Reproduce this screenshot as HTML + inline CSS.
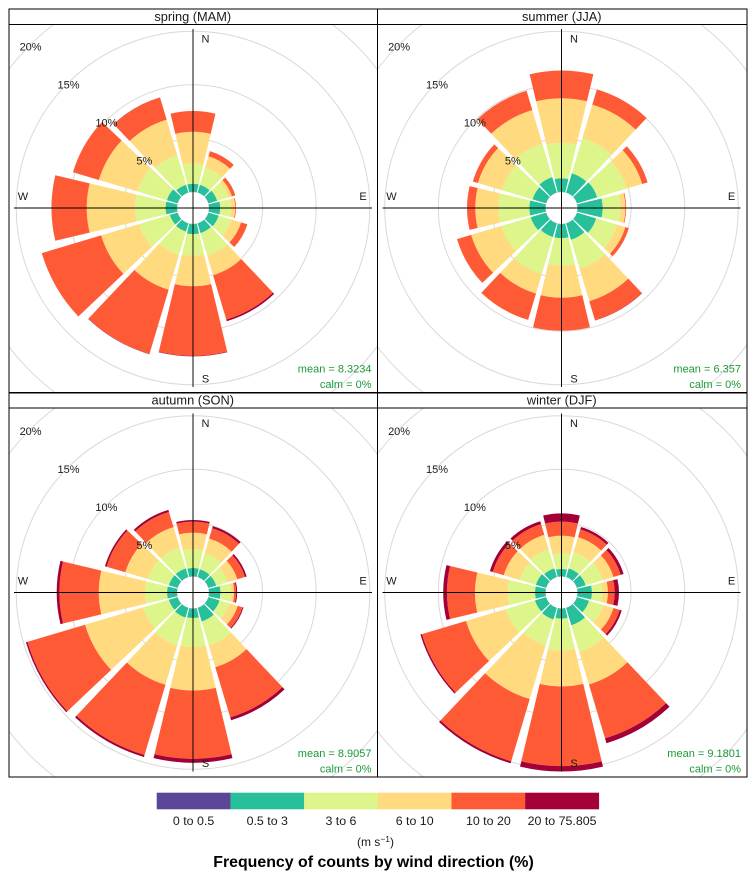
<!DOCTYPE html>
<html lang="en">
<head>
<meta charset="utf-8">
<title>Wind rose by season</title>
<style>
  html, body { margin: 0; padding: 0; background: #fff; }
  body { width: 755px; height: 878px; overflow: hidden; }
  svg { display: block; font-family: "Liberation Sans", Arial, sans-serif; filter: blur(0.3px); }
  text { fill: #1a1a1a; }
</style>
</head>
<body>
<svg id="chart" width="755" height="878" viewBox="0 0 755 878" xmlns="http://www.w3.org/2000/svg">
  <g id="panels"></g>
  <g id="legend"></g>
  <text x="375.5" y="846" font-size="12" text-anchor="middle">(m s<tspan dy="-4" font-size="8.5">−1</tspan><tspan dy="4">)</tspan></text>
  <text x="373.5" y="867" font-size="15.9" font-weight="bold" text-anchor="middle" style="fill:#000">Frequency of counts by wind direction (%)</text>
</svg>
<script>
// Categories
const directions = [0, 30, 60, 90, 120, 150, 180, 210, 240, 270, 300, 330];
const speedBands = ["0 to 0.5", "0.5 to 3", "3 to 6", "6 to 10", "10 to 20", "20 to 75.805"];
const bandColours = ["#5B4698", "#27C09B", "#DDF58B", "#FFDA7E", "#FF5A36", "#A30038"];
const gridTicks = [5, 10, 15, 20];
const compassLabels = ["N", "E", "S", "W"];

// Frequency (%) of counts by direction, one array per speed band, per season
const spring0 = [.02,.02,.02,.02,.02,.02,.02,.02,.02,.02,.02,.02];
const spring1 = [.75,.75,.84,1.03,.99,.93,.93,.79,.75,1.05,1.03,.75];
const spring2 = [1.91,1.65,1.07,1.03,1.25,2.20,2.01,2.29,2.99,2.84,2.89,2.89];
const spring3 = [2.94,1.13,.36,.37,.93,1.90,2.85,3.36,3.69,4.51,3.73,3.45];
const spring4 = [1.93,.49,.34,.07,.61,4.32,6.48,6.25,5.78,3.29,2.52,2.15];
const spring5 = [0,0,0,0,0,.16,.05,.03,0,0,0,.02];

const summer0 = [.02,.02,.02,.02,.02,.02,.02,.02,.02,.02,.02,.02];
const summer1 = [1.26,1.87,1.96,2.33,1.87,1.59,1.31,1.31,1.49,1.49,1.31,1.49];
const summer2 = [3.31,3.41,2.89,1.65,2.05,2.80,2.58,3.64,2.85,2.89,2.99,3.27];
const summer3 = [4.15,3.27,1.49,.47,.79,3.17,2.96,1.87,2.94,2.15,2.33,3.27];
const summer4 = [2.59,1.49,.53,.07,.33,1.85,3.08,2.56,1.38,.77,.49,1.87];
const summer5 = [0,0,0,0,0,.03,0,0,0,0,0,0];

const autumn0 = [.02,.02,.02,.02,.02,.02,.02,.02,.02,.02,.02,.02];
const autumn1 = [.77,.75,.75,1.05,1.07,1.31,.87,.93,.84,.91,.84,.84];
const autumn2 = [1.77,1.59,1.12,1.00,.98,2.33,2.71,2.71,2.52,2.05,2.05,2.05];
const autumn3 = [1.53,1.40,.93,.28,.79,2.12,4.05,3.83,5.64,4.32,2.19,1.96];
const autumn4 = [1.03,1.00,.75,.19,.47,4.88,6.37,6.84,5.61,3.67,1.82,1.49];
const autumn5 = [.15,.21,.16,.09,.09,.28,.37,.19,.14,.25,.16,.19];

const winter0 = [.02,.02,.02,.02,.02,.02,.02,.02,.02,.02,.02,.02];
const winter1 = [.68,.84,.84,1.33,1.17,1.68,.93,1.12,1.07,.96,.98,.84];
const winter2 = [1.46,1.59,1.68,.97,1.39,2.57,2.96,2.52,2.85,2.56,1.59,1.87];
const winter3 = [1.65,1.45,1.03,.52,.99,3.20,3.36,5.22,3.87,3.04,1.54,1.40];
const winter4 = [1.31,.75,.70,.63,.61,5.24,7.43,6.06,4.29,2.61,1.07,1.03];
const winter5 = [.77,.23,.28,.40,.19,.47,.50,.19,.14,.35,.28,.28];

const seasonTitles = ["spring (MAM)", "summer (JJA)", "autumn (SON)", "winter (DJF)"];
const seasonMeans = ["mean = 8.3234", "mean = 6.357", "mean = 8.9057", "mean = 9.1801"];
const seasonCalm = ["calm = 0%", "calm = 0%", "calm = 0%", "calm = 0%"];
const seasonBands = [
  [spring0, spring1, spring2, spring3, spring4, spring5],
  [summer0, summer1, summer2, summer3, summer4, summer5],
  [autumn0, autumn1, autumn2, autumn3, autumn4, autumn5],
  [winter0, winter1, winter2, winter3, winter4, winter5]
];

// Layout and axis functions
const NS = "http://www.w3.org/2000/svg";
const HOLE_RADIUS = 16;
const PX_PER_PERCENT = 10.72;
const WEDGE_HALF_ANGLE = 13.4;
const AXIS_HALF_LENGTH = 179;
const colEdges = [9, 377.5, 747];
const rowTops = [9, 393];
const stripBottoms = [24.5, 408];
const rowBottoms = [392.5, 777];
const centreX = [193, 561.5];
const centreY = [208, 592.5];

function radiusScale(percent) {
  return HOLE_RADIUS + percent * PX_PER_PERCENT;
}
function polar(cx, cy, r, deg) {
  const a = deg * Math.PI / 180;
  return [cx + r * Math.sin(a), cy - r * Math.cos(a)];
}
function wedgePath(cx, cy, r0, r1, dir) {
  const a = dir - WEDGE_HALF_ANGLE;
  const b = dir + WEDGE_HALF_ANGLE;
  const p1 = polar(cx, cy, r0, a);
  const p2 = polar(cx, cy, r1, a);
  const p3 = polar(cx, cy, r1, b);
  const p4 = polar(cx, cy, r0, b);
  return "M" + p1[0].toFixed(2) + " " + p1[1].toFixed(2) +
    "L" + p2[0].toFixed(2) + " " + p2[1].toFixed(2) +
    "A" + r1.toFixed(2) + " " + r1.toFixed(2) + " 0 0 1 " + p3[0].toFixed(2) + " " + p3[1].toFixed(2) +
    "L" + p4[0].toFixed(2) + " " + p4[1].toFixed(2) +
    "A" + r0.toFixed(2) + " " + r0.toFixed(2) + " 0 0 0 " + p1[0].toFixed(2) + " " + p1[1].toFixed(2) + "Z";
}
function make(tag, attrs, parent) {
  const el = document.createElementNS(NS, tag);
  Object.keys(attrs).forEach(function (k) { el.setAttribute(k, attrs[k]); });
  parent.appendChild(el);
  return el;
}

const panelsRoot = document.getElementById("panels");
const defs = make("defs", {}, panelsRoot);

seasonTitles.forEach(function (title, s) {
  const col = s % 2;
  const row = Math.floor(s / 2);
  const x0 = colEdges[col], x1 = colEdges[col + 1];
  const yTop = rowTops[row], yStrip = stripBottoms[row], yBottom = rowBottoms[row];
  const cx = centreX[col], cy = centreY[row];

  const panel = make("g", {}, panelsRoot);
  
  

  const clip = make("clipPath", { id: "clip" + s }, defs);
  make("rect", { x: x0, y: yStrip, width: x1 - x0, height: yBottom - yStrip }, clip);

  const plot = make("g", { "clip-path": "url(#clip" + s + ")" }, panel);

  gridTicks.forEach(function (tick) {
    const ring = make("circle", { cx: cx, cy: cy, r: radiusScale(tick), fill: "none", stroke: "#d9d9d9", "stroke-width": 1 }, plot);
    
    
  });

  directions.forEach(function (dir, d) {
    let total = 0;
    seasonBands[s].forEach(function (band, b) {
      const inner = radiusScale(total);
      total += band[d];
      const outer = radiusScale(total);
      if (outer - inner <= 0) return;
      const seg = make("path", { d: wedgePath(cx, cy, inner, outer, dir), fill: bandColours[b] }, plot);
      
      
    });
  });

  const vAxis = make("line", { x1: cx, x2: cx, y1: cy - AXIS_HALF_LENGTH, y2: cy + AXIS_HALF_LENGTH, stroke: "#000", "stroke-width": 0.95 }, panel);
  
  
  const hAxis = make("line", { x1: cx - AXIS_HALF_LENGTH, x2: cx + AXIS_HALF_LENGTH, y1: cy, y2: cy, stroke: "#000", "stroke-width": 0.95 }, panel);
  
  

  gridTicks.forEach(function (tick) {
    const off = (radiusScale(tick) / Math.SQRT2);
    const label = make("text", { x: cx - off + 0.5, y: cy - off + 5.5, "font-size": 11, "text-anchor": "middle" }, panel);
    
    
    label.textContent = tick + "%";
  });

  compassLabels.forEach(function (name, i) {
    const vertical = i % 2 === 0;
    const sign = i < 2 ? 1 : -1;
    const lx = vertical ? cx + 12.5 : cx + sign * 170;
    const ly = vertical ? cy - sign * 170 + 4.5 : cy - 12.5 + 4.5;
    const label = make("text", { x: lx, y: ly, "font-size": 11, "text-anchor": "middle" }, panel);
    
    
    label.textContent = name;
  });

  const mean = make("text", { x: x1 - 6, y: yBottom - 20, "font-size": 11, "text-anchor": "end", style: "fill:#1a9a36" }, panel);
  
  
  mean.textContent = seasonMeans[s];
  const calm = make("text", { x: x1 - 6, y: yBottom - 4.5, "font-size": 11, "text-anchor": "end", style: "fill:#1a9a36" }, panel);
  
  
  calm.textContent = seasonCalm[s];

  const frame = make("rect", { x: x0, y: yTop, width: x1 - x0, height: yBottom - yTop, fill: "none", stroke: "#000", "stroke-width": 1 }, panel);
  
  
  const stripLine = make("line", { x1: x0, x2: x1, y1: yStrip, y2: yStrip, stroke: "#000", "stroke-width": 1 }, panel);
  
  
  const stripText = make("text", { x: (x0 + x1) / 2 - 0.5, y: yStrip - 3.5, "font-size": 12.8, "text-anchor": "middle" }, panel);
  
  
  stripText.textContent = title;
});

const legendRoot = document.getElementById("legend");
const LEGEND_X = 156.7;
const LEGEND_SWATCH = 73.7;
speedBands.forEach(function (name, i) {
  const swatch = make("rect", { x: LEGEND_X + i * LEGEND_SWATCH, y: 792.7, width: LEGEND_SWATCH + 0.2, height: 16.6, fill: bandColours[i] }, legendRoot);
  
  
  const label = make("text", { x: LEGEND_X + (i + 0.5) * LEGEND_SWATCH, y: 825, "font-size": 12.4, "text-anchor": "middle" }, legendRoot);
  
  
  label.textContent = name;
});
</script>
</body>
</html>
